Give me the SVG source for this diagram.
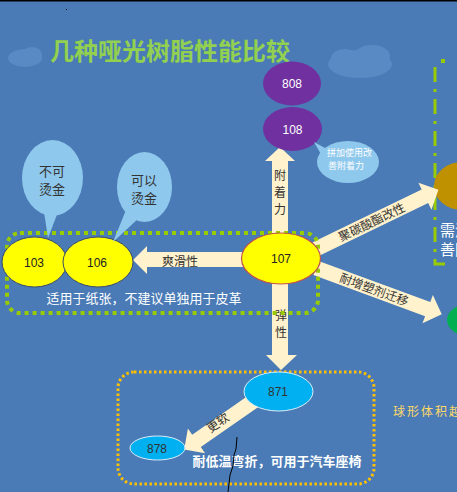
<svg xmlns="http://www.w3.org/2000/svg" width="457" height="492" viewBox="0 0 457 492">
<style>
.cjk{font-family:"Noto Sans CJK SC","Noto Sans",sans-serif}
.num{font-family:"Liberation Sans","DejaVu Sans",sans-serif;font-size:12px;text-anchor:middle;dominant-baseline:central}
.arr{fill:#fff2cc}
.lab{font-family:"Noto Sans CJK SC",sans-serif;font-size:12px;fill:#333;text-anchor:middle}
.call{fill:#8ec8ec}
.cloud{fill:#5a8ac4}
</style>
<rect width="457" height="492" fill="#4a7bb6"/>
<rect width="457" height="1.5" fill="#000"/>
<rect x="66" y="9" width="1" height="1" fill="#000"/>
<!-- clouds -->
<g class="cloud">
<ellipse cx="25" cy="58" rx="17" ry="9"/><ellipse cx="32" cy="55" rx="10" ry="8"/>
<ellipse cx="360" cy="64" rx="32" ry="14"/><ellipse cx="372" cy="56" rx="18" ry="11"/><ellipse cx="345" cy="58" rx="14" ry="9"/>
</g>
<text x="50" y="60" class="cjk" font-size="24" font-weight="bold" fill="#92d050">几种哑光树脂性能比较</text>

<!-- right-side partial elements -->
<g id="rightFrame" fill="none" stroke="#99cc00" stroke-width="3">
<path d="M435 67 V264 H449" stroke-dasharray="15,7,3,7"/>
<rect x="441" y="59" width="4" height="4" fill="#99cc00" stroke="none"/>
</g>
<g id="nodeGold"><ellipse cx="462" cy="186" rx="28" ry="24" fill="#bf9000"/></g>
<g id="nodeGreen"><ellipse cx="472" cy="320" rx="25" ry="17" fill="#00b050"/></g>
<text x="440" y="236" class="cjk" font-size="15" fill="#fff">需添</text>
<text x="440" y="255" class="cjk" font-size="15" fill="#fff">善附</text>
<text x="393" y="416" class="cjk" font-size="12" fill="#ffd966" letter-spacing="2">球形体积越</text>

<!-- connectors -->
<g id="connectors">
<polygon class="arr" points="272,240 272,161 265,161 280,147 295,161 288,161 288,240"/>
<polygon class="arr" points="245,252 147,252 147,246 133,260 147,274 147,267 245,267"/>
<polygon class="arr" points="272,280 272,355 266,355 281,370 297,355 288,355 288,280"/>
<g transform="translate(316,249) rotate(-25.8)">
<polygon class="arr" points="0,-7.5 121,-7.5 121,-15 136,0 121,15 121,7.5 0,7.5"/>
<text x="62" y="4.5" class="lab">聚碳酸酯改性</text>
</g>
<g transform="translate(316,268) rotate(20.2)">
<polygon class="arr" points="0,-7.5 119,-7.5 119,-15 134,0 119,15 119,7.5 0,7.5"/>
<text x="62" y="4.5" class="lab">耐增塑剂迁移</text>
</g>
<g transform="translate(258,398) rotate(145.1)">
<polygon class="arr" points="0,-7.5 75,-7.5 75,-15 90,0 75,15 75,7.5 0,7.5"/>
</g>
<text x="218" y="427" class="lab" transform="rotate(-35 218 423)">更软</text>
<text x="180" y="266" class="lab" font-size="12">爽滑性</text>
<text class="lab" font-size="13"><tspan x="280" y="180">附</tspan><tspan x="280" y="197">着</tspan><tspan x="280" y="214">力</tspan></text>
<text class="lab" font-size="13"><tspan x="281" y="320">弹</tspan><tspan x="281" y="337">性</tspan></text>
</g>

<!-- groups -->
<rect id="groupGreen" x="7" y="233" width="311" height="80" rx="13" fill="none" stroke="#99cc00" stroke-width="4" stroke-dasharray="4,4"/>
<rect id="groupOrange" x="118" y="372" width="256" height="112" rx="16" fill="none" stroke="#ffc000" stroke-width="3" stroke-dasharray="2.5,2.5"/>

<!-- nodes -->
<g id="n808"><ellipse cx="292" cy="83.5" rx="29" ry="22" fill="#7030a0"/><text x="292" y="84" class="num" fill="#fff">808</text></g>
<g id="n108"><ellipse cx="292.5" cy="129" rx="29.5" ry="22" fill="#7030a0"/><text x="292.5" y="129.5" class="num" fill="#fff">108</text></g>
<g id="c108">
<polygon class="call" points="314,142 325,148 322,156"/>
<ellipse class="call" cx="348" cy="162" rx="31" ry="21"/>
<text class="cjk" font-size="9" fill="#fff"><tspan x="327" y="156">拼加使用改</tspan><tspan x="328" y="169">善附着力</tspan></text>
</g>
<g id="n107"><ellipse cx="281" cy="258.5" rx="39.5" ry="25.5" fill="#ffff00" stroke="#c0504d" stroke-width="1.2"/><text x="281" y="259" class="num" fill="#222">107</text></g>
<g id="n103"><ellipse cx="34.5" cy="262" rx="32.5" ry="25" fill="#ffff00" stroke="#3a4a6a" stroke-width="1"/><text x="34" y="262.5" class="num" fill="#222">103</text></g>
<g id="n106"><ellipse cx="98" cy="262" rx="35" ry="25" fill="#ffff00" stroke="#3a4a6a" stroke-width="1"/><text x="97" y="262.5" class="num" fill="#222">106</text></g>
<g id="c103">
<polygon class="call" points="44,212 58,212 48,238"/>
<ellipse class="call" cx="52.5" cy="178" rx="30.5" ry="38"/>
<text class="cjk" font-size="13" fill="#333" text-anchor="middle"><tspan x="52" y="176">不可</tspan><tspan x="52" y="194">烫金</tspan></text>
</g>
<g id="c106">
<polygon class="call" points="126,210 139,218 113,242"/>
<ellipse class="call" cx="144.5" cy="187" rx="27.5" ry="35"/>
<text class="cjk" font-size="13" fill="#333" text-anchor="middle"><tspan x="144" y="185">可以</tspan><tspan x="144" y="203">烫金</tspan></text>
</g>
<g id="n871"><ellipse cx="278.5" cy="391.5" rx="34.5" ry="19.5" fill="#00b0f0" stroke="#dbeefa" stroke-width="1"/><text x="278" y="392" class="num" fill="#333">871</text></g>
<g id="n878"><ellipse cx="157.5" cy="448" rx="27.5" ry="12" fill="#00b0f0" stroke="#dbeefa" stroke-width="1"/><text x="157" y="448.5" class="num" fill="#333">878</text></g>

<text x="144" y="303" class="cjk" font-size="13" fill="#fff" text-anchor="middle">适用于纸张，不建议单独用于皮革</text>
<text x="277" y="466" class="cjk" font-size="13" font-weight="bold" fill="#fff" text-anchor="middle">耐低温弯折，可用于汽车座椅</text>
<polyline points="237,437 236,449 234,455 233,466 230,475 229,484 228,492" fill="none" stroke="#000" stroke-width="1"/>
</svg>
